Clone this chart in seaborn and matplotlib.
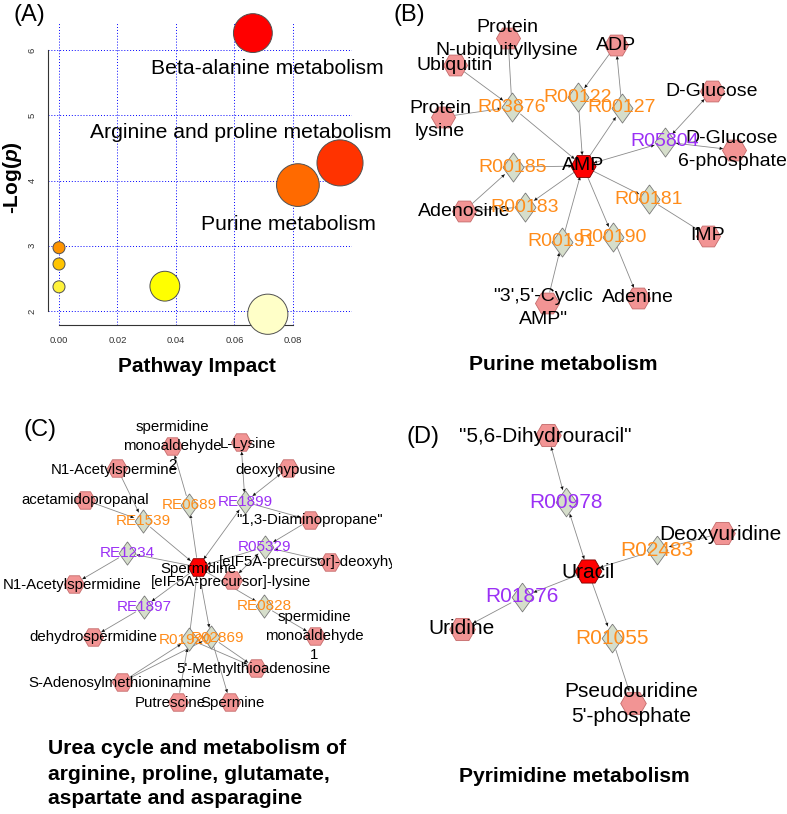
import matplotlib
matplotlib.use("Agg")
import matplotlib.pyplot as plt
import pandas as pd
import seaborn as sns

# ---- (A) pathway overview ----
pathway_names = ["Beta-alanine metabolism", "Arginine and proline metabolism", "Purine metabolism",
                 "p4", "p5", "p6", "p7", "p8"]
pathway_impact = [0.0663, 0.0961, 0.0817, 0.0, 0.0, 0.0, 0.0362, 0.0714]
neg_log_p = [6.26, 4.27, 3.93, 2.97, 2.72, 2.37, 2.38, 1.95]
point_colors = ["#FF0000", "#FF3300", "#FF6A00", "#FF9400", "#FFC400", "#FFF23A", "#FFFF00", "#FFFFC8"]
labelled = ["Beta-alanine metabolism", "Arginine and proline metabolism", "Purine metabolism"]

# ---- (B) purine metabolism ----
purine_hub = "AMP"
purine_metabolites = ["Protein\nN-ubiquityllysine", "Ubiquitin", "Protein\nlysine", "ADP", "D-Glucose",
                      "D-Glucose\n6-phosphate", "Adenosine", "IMP", "\"3',5'-Cyclic\nAMP\"", "Adenine"]
purine_reactions = ["R03876", "R00122", "R00127", "R05804", "R00185", "R00183", "R00181", "R00191", "R00190"]
purine_purple = ["R05804"]
purine_edges = [
    ("Ubiquitin", "R03876", "->"), ("Protein\nN-ubiquityllysine", "R03876", "-"),
    ("Protein\nlysine", "R03876", "->"), ("R03876", "AMP", "->"),
    ("ADP", "R00122", "->"), ("R00122", "AMP", "->"),
    ("AMP", "R00127", "->"), ("R00127", "ADP", "->"),
    ("AMP", "R05804", "<->"), ("R05804", "D-Glucose", "<->"), ("R05804", "D-Glucose\n6-phosphate", "<->"),
    ("Adenosine", "R00185", "->"), ("R00185", "AMP", "->"),
    ("AMP", "R00183", "->"), ("R00183", "Adenosine", "->"),
    ("AMP", "R00181", "->"), ("R00181", "IMP", "->"),
    ("\"3',5'-Cyclic\nAMP\"", "R00191", "->"), ("R00191", "AMP", "->"),
    ("AMP", "R00190", "->"), ("R00190", "Adenine", "->"),
]

# ---- (C) urea cycle / arginine ... ----
urea_hub = "Spermidine"
urea_metabolites = ["spermidine\nmonoaldehyde\n2", "L-Lysine", "N1-Acetylspermine", "deoxyhypusine",
                    "acetamidopropanal", "\"1,3-Diaminopropane\"", "[eIF5A-precursor]-deoxyhypusine",
                    "[eIF5A-precursor]-lysine", "N1-Acetylspermidine", "dehydrospermidine",
                    "spermidine\nmonoaldehyde\n1", "5'-Methylthioadenosine", "S-Adenosylmethioninamine",
                    "Putrescine", "Spermine"]
urea_reactions = ["RE0689", "RE1899", "RE1539", "R05329", "RE1234", "RE0828", "RE1897", "R01920", "R02869"]
urea_purple = ["RE1899", "R05329", "RE1234", "RE1897"]
urea_edges = [
    ("N1-Acetylspermine", "RE1539", "->"), ("acetamidopropanal", "RE1539", "->"), ("RE1539", "Spermidine", "->"),
    ("Spermidine", "RE0689", "->"), ("RE0689", "spermidine\nmonoaldehyde\n2", "->"),
    ("Spermidine", "RE1899", "<->"), ("L-Lysine", "RE1899", "<->"), ("RE1899", "deoxyhypusine", "<->"),
    ("RE1899", "\"1,3-Diaminopropane\"", "->"),
    ("\"1,3-Diaminopropane\"", "R05329", "->"), ("R05329", "[eIF5A-precursor]-deoxyhypusine", "<->"),
    ("R05329", "Spermidine", "->"), ("R05329", "[eIF5A-precursor]-lysine", "<->"),
    ("Spermidine", "RE1234", "->"), ("RE1234", "N1-Acetylspermidine", "->"),
    ("Spermidine", "RE1897", "->"), ("RE1897", "dehydrospermidine", "->"),
    ("Spermidine", "RE0828", "->"), ("RE0828", "spermidine\nmonoaldehyde\n1", "->"),
    ("S-Adenosylmethioninamine", "R01920", "->"), ("Putrescine", "R01920", "->"),
    ("R01920", "Spermidine", "->"), ("R01920", "5'-Methylthioadenosine", "->"),
    ("Spermidine", "R02869", "->"), ("S-Adenosylmethioninamine", "R02869", "->"),
    ("R02869", "Spermine", "->"), ("R02869", "5'-Methylthioadenosine", "->"),
]

# ---- (D) pyrimidine metabolism ----
pyr_hub = "Uracil"
pyr_metabolites = ["\"5,6-Dihydrouracil\"", "Deoxyuridine", "Uridine", "Pseudouridine\n5'-phosphate"]
pyr_reactions = ["R00978", "R02483", "R01876", "R01055"]
pyr_purple = ["R00978", "R01876"]
pyr_edges = [
    ("\"5,6-Dihydrouracil\"", "R00978", "<->"), ("R00978", "Uracil", "<->"),
    ("Deoxyuridine", "R02483", "->"), ("R02483", "Uracil", "->"),
    ("Uracil", "R01876", "->"), ("R01876", "Uridine", "->"),
    ("Uracil", "R01055", "->"), ("R01055", "Pseudouridine\n5'-phosphate", "->"),
]

# network layouts (figure pixel coordinates)
purine_pos = {
    "AMP": (583, 166), "Protein\nN-ubiquityllysine": (508, 38), "Ubiquitin": (455, 65),
    "Protein\nlysine": (443, 117), "ADP": (616, 45), "D-Glucose": (712, 91),
    "D-Glucose\n6-phosphate": (734, 150), "Adenosine": (464, 211), "IMP": (708, 236),
    "\"3',5'-Cyclic\nAMP\"": (547, 303), "Adenine": (638, 298),
    "R03876": (512, 107), "R00122": (578, 97), "R00127": (622, 108), "R05804": (665, 142),
    "R00185": (513, 167), "R00183": (525, 207), "R00181": (649, 199), "R00191": (562, 242),
    "R00190": (613, 237),
}
purine_lbl_off = {"D-Glucose\n6-phosphate": (-2, 0), "\"3',5'-Cyclic\nAMP\"": (-4, 5), "Protein\nlysine": (-3, 3),
                  "Protein\nN-ubiquityllysine": (-1, 1)}

urea_pos = {
    "Spermidine": (198, 567), "spermidine\nmonoaldehyde\n2": (172, 446), "L-Lysine": (241, 442),
    "N1-Acetylspermine": (117, 468), "deoxyhypusine": (288, 468), "acetamidopropanal": (85, 500),
    "\"1,3-Diaminopropane\"": (310, 520), "[eIF5A-precursor]-deoxyhypusine": (330, 562),
    "[eIF5A-precursor]-lysine": (232, 580), "N1-Acetylspermidine": (74, 584),
    "dehydrospermidine": (93, 637), "spermidine\nmonoaldehyde\n1": (315, 636),
    "5'-Methylthioadenosine": (256, 668), "S-Adenosylmethioninamine": (122, 682),
    "Putrescine": (178, 702), "Spermine": (230, 702),
    "RE0689": (189, 505), "RE1899": (245, 502), "RE1539": (143, 521), "R05329": (265, 547),
    "RE1234": (127, 553), "RE0828": (264, 606), "RE1897": (144, 607), "R01920": (189, 639),
    "R02869": (211, 637),
}
urea_lbl_off = {"L-Lysine": (7, 2), "N1-Acetylspermine": (-3, 2), "deoxyhypusine": (-2, 2),
                "Putrescine": (-8, 1), "Spermine": (3, 1), "Spermidine": (0, 2),
                "R01920": (-3, 1), "R02869": (7, 1), "spermidine\nmonoaldehyde\n1": (-1, 0),
                "N1-Acetylspermidine": (-2, 1), "S-Adenosylmethioninamine": (-2, 1),
                "5'-Methylthioadenosine": (-2, 1), "[eIF5A-precursor]-lysine": (-1, 2)}

pyr_pos = {
    "Uracil": (588, 571), "\"5,6-Dihydrouracil\"": (548, 435), "Deoxyuridine": (722, 533),
    "Uridine": (462, 629), "Pseudouridine\n5'-phosphate": (633, 703),
    "R00978": (566, 502), "R02483": (657, 550), "R01876": (522, 597), "R01055": (612, 638),
}
pyr_lbl_off = {"\"5,6-Dihydrouracil\"": (-3, 1), "Deoxyuridine": (-2, 1), "Pseudouridine\n5'-phosphate": (-2, 1),
               "Uracil": (0, 1)}

ORANGE = "#FF8C1A"
PURPLE = "#9B30F5"
PINK = "#F29494"
HUB = "#FF0000"
DIA = "#D6DECB"
DIAMOND = [(0, 1), (0.72, 0), (0, -1), (-0.72, 0), (0, 1)]

sns.set_style("white")
plt.rcParams["font.family"] = ["Liberation Sans", "DejaVu Sans"]
plt.rcParams["text.color"] = "black"
plt.rcParams["axes.labelcolor"] = "black"
plt.rcParams["mathtext.fontset"] = "custom"
plt.rcParams["mathtext.it"] = "Liberation Sans:italic:bold"
plt.rcParams["mathtext.rm"] = "Liberation Sans:bold"

W, H = 787, 814
fig = plt.figure(figsize=(W / 100, H / 100), dpi=100)


def frac(x0, y0, x1, y1):
    return [x0 / W, 1 - y1 / H, (x1 - x0) / W, (y1 - y0) / H]


def ftext(x, y, s, **kw):
    fig.text(x / W, 1 - y / H, s, **kw)


# ---------------- panel A ----------------
axA = fig.add_axes(frac(48, 22, 352, 325))
dfA = pd.DataFrame({"impact": pathway_impact, "neglogp": neg_log_p, "name": pathway_names})
sns.scatterplot(data=dfA, x="impact", y="neglogp", hue="name", palette=point_colors,
                size="impact", sizes=(75, 1100), edgecolor="#505050", linewidth=0.7,
                legend=False, ax=axA, zorder=3, clip_on=False)
axA.set_xlim(-0.00376, 0.1002)
axA.set_ylim(1.785, 6.43)
axA.set_xticks([0, 0.02, 0.04, 0.06, 0.08])
axA.set_xticklabels(["0.00", "0.02", "0.04", "0.06", "0.08"])
axA.set_yticks([2, 3, 4, 5, 6])
axA.set_yticklabels(["2", "3", "4", "5", "6"], rotation=90, va="center")
axA.grid(True, color="#0000FF", linestyle=(0, (1, 2)), linewidth=0.7)
axA.set_axisbelow(True)
for side in ["top", "right"]:
    axA.spines[side].set_visible(False)
axA.spines["left"].set_bounds(2, 6)
axA.spines["bottom"].set_bounds(0, 0.08)
for side in ["left", "bottom"]:
    axA.spines[side].set_color("#333333")
    axA.spines[side].set_linewidth(0.8)
axA.tick_params(labelsize=6.8, length=5, width=0.8, color="#333333", labelcolor="#333333", pad=3)
axA.set_xlabel("Pathway Impact", fontsize=15, fontweight="bold")
axA.set_ylabel(r"-Log($\mathit{p}$)", fontsize=15, fontweight="bold")
axA.xaxis.label.set_va("center")
axA.yaxis.label.set_va("center")
axA.xaxis.set_label_coords((197 - 48) / 304, (325 - 366) / 303)
axA.yaxis.set_label_coords((13 - 48) / 304, (325 - 178) / 303)
lbl_pos = {"Beta-alanine metabolism": (0.0711, 5.71),
           "Arginine and proline metabolism": (0.0622, 4.74),
           "Purine metabolism": (0.0783, 3.33)}
for name in labelled:
    lx, ly = lbl_pos[name]
    axA.text(lx, ly, name, fontsize=15.2, ha="center", va="center", zorder=5)


# ---------------- networks ----------------
def px_axes(x0, y0, x1, y1):
    ax = fig.add_axes(frac(x0, y0, x1, y1))
    ax.set_xlim(x0, x1)
    ax.set_ylim(y1, y0)
    ax.axis("off")
    return ax


def draw_network(ax, hub, metabolites, reactions, purple, edges, pos, lbl_off,
                 fs, rfs, hex_s, hub_s, dia_s, shrink, clip=False):
    styles = {"->": "-|>", "<->": "<|-|>", "-": "-"}
    for a, b, st in edges:
        ax.annotate("", xy=pos[b], xytext=pos[a], zorder=1,
                    arrowprops=dict(arrowstyle="-", color="#8A8A8A", lw=0.6,
                                    shrinkA=shrink, shrinkB=shrink))
        if st != "-":
            ax.annotate("", xy=pos[b], xytext=pos[a], zorder=1.5,
                        arrowprops=dict(arrowstyle=styles[st], color="#111111", lw=0,
                                        shrinkA=shrink, shrinkB=shrink, mutation_scale=6))
    met = pd.DataFrame({"x": [pos[m][0] for m in metabolites], "y": [pos[m][1] for m in metabolites]})
    rxn = pd.DataFrame({"x": [pos[r][0] for r in reactions], "y": [pos[r][1] for r in reactions]})
    hb = pd.DataFrame({"x": [pos[hub][0]], "y": [pos[hub][1]]})
    sns.scatterplot(data=rxn, x="x", y="y", marker=DIAMOND, s=dia_s, color=DIA,
                    edgecolor="#7A7A7A", linewidth=0.6, ax=ax, zorder=2, legend=False)
    sns.scatterplot(data=met, x="x", y="y", marker="H", s=hex_s, color=PINK,
                    edgecolor="#C46A6A", linewidth=0.6, ax=ax, zorder=2, legend=False)
    sns.scatterplot(data=hb, x="x", y="y", marker="H", s=hub_s, color=HUB,
                    edgecolor="#7A0000", linewidth=0.6, ax=ax, zorder=2, legend=False)
    for n in [hub] + metabolites:
        dx, dy = lbl_off.get(n, (0, 0))
        ax.text(pos[n][0] + dx, pos[n][1] + dy, n, fontsize=fs, ha="center", va="center",
                color="black", zorder=4, linespacing=1.45, clip_on=clip)
    for r in reactions:
        dx, dy = lbl_off.get(r, (0, 0))
        ax.text(pos[r][0] + dx, pos[r][1] + dy, r, fontsize=rfs, ha="center", va="center",
                color=PURPLE if r in purple else ORANGE, zorder=4, clip_on=clip)
    ax.set_xlabel("")
    ax.set_ylabel("")


axB = px_axes(390, 0, 787, 400)
draw_network(axB, purine_hub, purine_metabolites, purine_reactions, purine_purple, purine_edges,
             purine_pos, purine_lbl_off, fs=14, rfs=14, hex_s=300, hub_s=330, dia_s=440, shrink=8)
axB.set_xlim(390, 787)
axB.set_ylim(400, 0)

axC = px_axes(0, 400, 392, 814)
draw_network(axC, urea_hub, urea_metabolites, urea_reactions, urea_purple, urea_edges,
             urea_pos, urea_lbl_off, fs=10.8, rfs=11, hex_s=210, hub_s=215, dia_s=280, shrink=7, clip=True)
axC.set_xlim(0, 392)
axC.set_ylim(814, 400)

axD = px_axes(400, 400, 787, 814)
draw_network(axD, pyr_hub, pyr_metabolites, pyr_reactions, pyr_purple, pyr_edges,
             pyr_pos, pyr_lbl_off, fs=15, rfs=15, hex_s=340, hub_s=370, dia_s=430, shrink=9)
axD.set_xlim(400, 787)
axD.set_ylim(814, 400)

# titles and panel letters
ftext(563, 364, "Purine metabolism", fontsize=15.2, fontweight="bold", ha="center", va="center")
ftext(48, 774, "Urea cycle and metabolism of\narginine, proline, glutamate,\naspartate and asparagine",
      fontsize=15.2, fontweight="bold", ha="left", va="center", linespacing=1.4)
ftext(574, 777, "Pyrimidine metabolism", fontsize=15.2, fontweight="bold", ha="center", va="center")
for letter, (lx, ly) in {"(A)": (29, 15), "(B)": (409, 15), "(C)": (40, 430), "(D)": (423, 437)}.items():
    ftext(lx, ly, letter, fontsize=17, ha="center", va="center")

fig.savefig("out.png", dpi=100)
